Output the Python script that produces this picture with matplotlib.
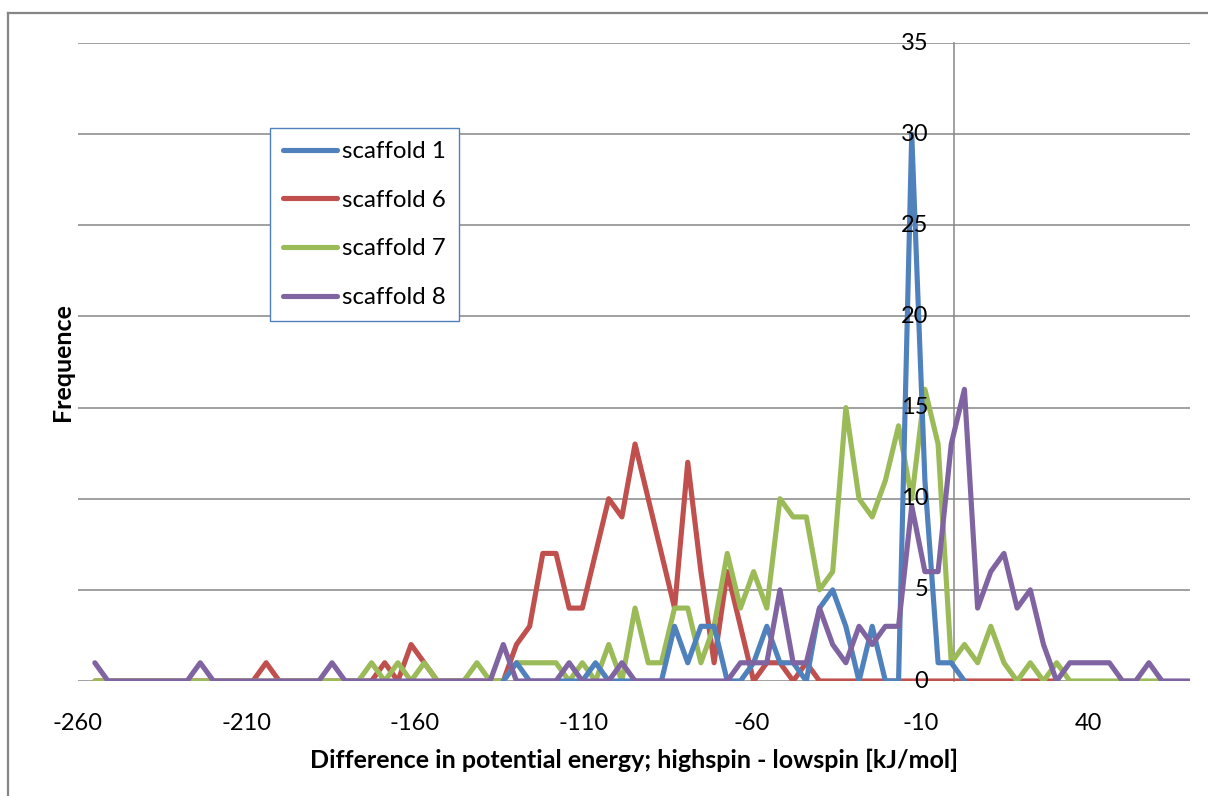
import numpy as np
import matplotlib
matplotlib.use("Agg")
import matplotlib.pyplot as plt
from matplotlib import transforms
from matplotlib.lines import Line2D

plt.rcParams['font.family'] = ['Lato', 'DejaVu Sans']

# Histogram bins of the high-spin/low-spin energy difference (kJ/mol)
bin_start = -255.0
bin_width = 3.91
n_bins = 85
energy = bin_start + bin_width * np.arange(n_bins)

# Counts per bin; each series begins at its own first bin index
scaffold_1_first = 31
scaffold_1 = [0, 1, 0, 0, 0, 0, 0, 1, 0, 0, 0, 0, 0, 3, 1, 3, 3, 0, 0, 1,
              3, 1, 1, 0, 4, 5, 3, 0, 3, 0, 0, 30, 11, 1, 1, 0]

scaffold_6_first = 0
scaffold_6 = [0, 0, 0, 0, 0, 0, 0, 0, 0, 0, 0, 0, 0, 1, 0, 0, 0, 0, 0, 0,
              0, 0, 1, 0, 2, 1, 0, 0, 0, 0, 0, 0, 2, 3, 7, 7, 4, 4, 7, 10,
              9, 13, 10, 7, 4, 12, 6, 1, 6, 3, 0, 1, 1, 0, 1, 0, 0, 0, 0, 0,
              0, 0, 0, 0, 0, 0, 0, 0, 0, 0, 0, 0, 0, 0]

scaffold_7_first = 0
scaffold_7 = [0, 0, 0, 0, 0, 0, 0, 0, 0, 0, 0, 0, 0, 0, 0, 0, 0, 0, 0, 0,
              0, 1, 0, 1, 0, 1, 0, 0, 0, 1, 0, 0, 1, 1, 1, 1, 0, 1, 0, 2,
              0, 4, 1, 1, 4, 4, 1, 3, 7, 4, 6, 4, 10, 9, 9, 5, 6, 15, 10, 9,
              11, 14, 10, 16, 13, 1, 2, 1, 3, 1, 0, 1, 0, 1, 0, 0, 0, 0, 0, 0,
              0, 0]

scaffold_8_first = 0
scaffold_8 = [1, 0, 0, 0, 0, 0, 0, 0, 1, 0, 0, 0, 0, 0, 0, 0, 0, 0, 1, 0,
              0, 0, 0, 0, 0, 0, 0, 0, 0, 0, 0, 2, 0, 0, 0, 0, 1, 0, 0, 0,
              1, 0, 0, 0, 0, 0, 0, 0, 0, 1, 1, 1, 5, 1, 1, 4, 2, 1, 3, 2,
              3, 3, 9.6, 6, 6, 13, 16, 4, 6, 7, 4, 5, 2, 0, 1, 1, 1, 1, 0, 0,
              1, 0, 0, 0, 0]

series_labels = ['scaffold 1', 'scaffold 6', 'scaffold 7', 'scaffold 8']
series_colors = ['#4F81BD', '#C0504D', '#9BBB59', '#8064A2']
x_ticks = list(range(-260, 41, 50))
y_ticks = list(range(0, 36, 5))

W, H = 1208, 796
fig = plt.figure(figsize=(W / 100, H / 100), dpi=100)
fig.patch.set_facecolor('white')

# chart-area frame: left and top edges
frame_kw = dict(transform=fig.transFigure, color='#868686', linewidth=1.6)
fig.add_artist(Line2D([8 / W, 8 / W], [0, 1 - 13 / H], **frame_kw))
fig.add_artist(Line2D([8 / W, 1], [1 - 13 / H, 1 - 13 / H], **frame_kw))

ax = fig.add_axes([78 / W, 1 - 681 / H, 1112 / W, 638 / H])
ax.set_xlim(-260, 70)
ax.set_ylim(0, 35)
ax.set_xticks(x_ticks)
ax.set_xticklabels([str(t) for t in x_ticks])
ax.set_yticks(y_ticks)
ax.set_axisbelow(True)
ax.grid(axis='y', color='#868686', linewidth=1.1)
ax.grid(axis='x', visible=False)
for side in ('top', 'right', 'bottom'):
    ax.spines[side].set_visible(False)
ax.spines['left'].set_position(('data', 0))
ax.spines['left'].set_color('#868686')
ax.spines['left'].set_linewidth(1.1)
ax.tick_params(axis='x', length=0, pad=23, labelsize=17)
ax.tick_params(axis='y', length=0, labelleft=False)

# y tick labels sit beside the vertical axis at x = 0, on top of the curves
label_tf = transforms.offset_copy(ax.transData, fig=fig, x=-26, y=0, units='dots')
for t in y_ticks:
    ax.text(0, t, str(t), transform=label_tf, ha='right', va='center',
            fontsize=17, zorder=10, clip_on=False)

data = [(scaffold_1_first, scaffold_1), (scaffold_6_first, scaffold_6),
        (scaffold_7_first, scaffold_7), (scaffold_8_first, scaffold_8)]
zorders = [5, 3, 4, 6]
handles = []
for (first, vals), lab, col, z in zip(data, series_labels, series_colors, zorders):
    xs = energy[first:first + len(vals)]
    h, = ax.plot(xs, vals, color=col, linewidth=3.7, label=lab, zorder=z,
                 solid_joinstyle='round', solid_capstyle='round')
    handles.append(h)

leg = ax.legend(handles=handles, loc='upper left',
                bbox_to_anchor=(270 / W, 1 - 128 / H),
                bbox_transform=fig.transFigure,
                fontsize=17.3, frameon=True, fancybox=False,
                edgecolor='#4F81BD', framealpha=1,
                handlelength=2.25, handletextpad=0.2, labelspacing=1.15,
                borderpad=0.55, borderaxespad=0)
leg.get_frame().set_linewidth(1.0)
leg.set_zorder(20)

fig.text(634 / W, 1 - 760 / H,
         'Difference in potential energy; highspin - lowspin [kJ/mol]',
         ha='center', va='center', fontsize=18, fontweight='bold')
fig.text(62 / W, 1 - 362 / H, 'Frequence', rotation=90,
         ha='center', va='center', fontsize=18, fontweight='bold')

fig.savefig('out.png', dpi=100)
